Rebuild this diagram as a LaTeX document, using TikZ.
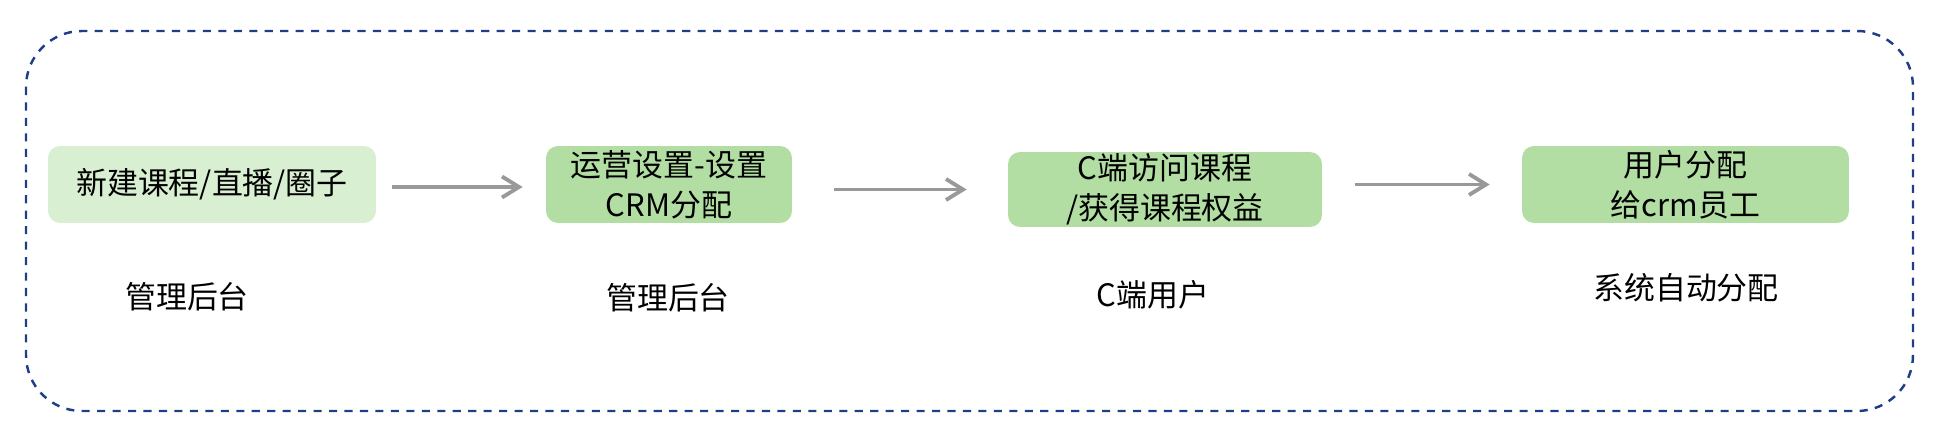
\documentclass[tikz,border=0pt]{standalone}
\usepackage{fontspec}
\usepackage{tikz}
\usetikzlibrary{arrows.meta}
\newfontfamily\cjk{Noto Sans CJK SC}
\definecolor{navy}{HTML}{1F3E87}
\definecolor{palegreen}{HTML}{D9EFD1}
\definecolor{stagegreen}{HTML}{B2DEA3}
\definecolor{flowgray}{HTML}{999999}
\tikzset{
  border/.style={draw=navy, line width=1.4pt, dash pattern=on 4.6pt off 4.2pt, rounded corners=1.12cm},
  stage/.style={fill=stagegreen, rounded corners=0.24cm, align=center, inner sep=0pt,
    minimum height=1.54cm, font=\cjk\fontsize{17.6}{22.8}\selectfont},
  flow/.style={draw=flowgray, line width=2.2pt, -{Straight Barb[length=0.34cm,width=0.42cm]}},
  role/.style={font=\cjk\fontsize{17.6}{22}\selectfont}
}
\begin{document}
\begin{tikzpicture}[x=0.02cm, y=-0.02cm]
  \useasboundingbox (0,0) rectangle (1952,432);
  \draw[border] (26,31) rectangle (1913,411);

  % process steps
  \node[stage, fill=palegreen, minimum width=6.56cm] (create) at (212,184.5) {新建课程/直播/圈子};
  \node[stage, minimum width=4.92cm] (setup) at (669,184.5) {运营设置-设置\\CRM分配};
  \node[stage, minimum width=6.28cm, minimum height=1.5cm] (visit) at (1165,189.5) {C端访问课程\\/获得课程权益};
  \node[stage, minimum width=6.54cm] (assign) at (1685.5,184.5) {用户分配\\给crm员工};

  % who does it
  \node[role] (roleA) at (187,297) {管理后台};
  \node[role] (roleB) at (668,298) {管理后台};
  \node[role] (roleC) at (1153,295) {C端用户};
  \node[role] (roleD) at (1686,288) {系统自动分配};

  \draw[flow, shorten <=0.32cm, shorten >=0.46cm] ([yshift=-0.05cm]create.east) -- ([yshift=-0.05cm]setup.west);
  \draw[flow, shorten <=0.84cm, shorten >=0.82cm] (setup.east |- visit.west) -- (visit.west);
  \draw[flow, shorten <=0.66cm, shorten >=0.64cm] (visit.east |- assign.west) -- (assign.west);
\end{tikzpicture}
\end{document}
